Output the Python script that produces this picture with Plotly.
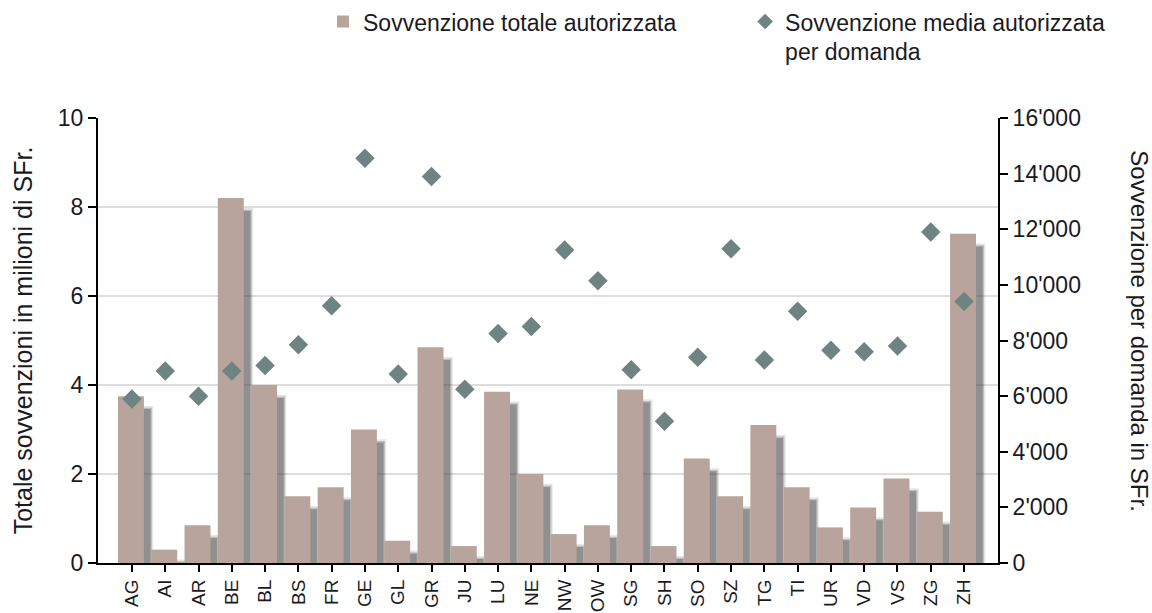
import plotly.graph_objects as go

cantons = ["AG", "AI", "AR", "BE", "BL", "BS", "FR", "GE", "GL", "GR", "JU", "LU", "NE",
           "NW", "OW", "SG", "SH", "SO", "SZ", "TG", "TI", "UR", "VD", "VS", "ZG", "ZH"]
totale_mio = [3.75, 0.3, 0.85, 8.2, 4.0, 1.5, 1.7, 3.0, 0.5, 4.85, 0.38, 3.85, 2.0,
              0.65, 0.85, 3.9, 0.38, 2.35, 1.5, 3.1, 1.7, 0.8, 1.25, 1.9, 1.15, 7.4]
media_sfr = [5900, 6900, 6000, 6900, 7100, 7850, 9250, 14550, 6800, 13900, 6250, 8250, 8500,
             11250, 10150, 6950, 5100, 7400, 11300, 7300, 9050, 7650, 7600, 7800, 11900, 9400]
left_ticks = [0, 2, 4, 6, 8, 10]
right_ticks = [0, 2000, 4000, 6000, 8000, 10000, 12000, 14000, 16000]
right_ticktext = ["0", "2'000", "4'000", "6'000", "8'000", "10'000", "12'000", "14'000", "16'000"]

FONT = "Liberation Sans, Arial, sans-serif"
TXT = "#1a1a22"
BAR = "#B8A49C"
DOT = "#6E8482"
FS = 23

idx = list(range(len(cantons)))
fig = go.Figure()

# soft drop shadow (several translucent layers)
for dx, dy, w, a in [(0.32, 0.22, 0.74, 0.12), (0.28, 0.26, 0.74, 0.24),
                     (0.24, 0.29, 0.74, 0.34)]:
    fig.add_trace(go.Bar(
        x=idx, y=totale_mio, base=[-dy] * len(idx),
        offset=-0.42 + dx, width=w,
        marker=dict(color=f"rgba(60,60,60,{a})", line=dict(width=0)),
        showlegend=False, hoverinfo="skip"))

fig.add_trace(go.Bar(
    x=idx, y=totale_mio, offset=-0.42, width=0.78,
    marker=dict(color=BAR, line=dict(width=0)),
    name="Sovvenzione totale autorizzata", legend="legend"))

fig.add_trace(go.Scatter(
    x=idx, y=media_sfr, yaxis="y2", mode="markers",
    marker=dict(symbol="diamond", size=15, color=DOT),
    name="Sovvenzione media autorizzata<br>per domanda", legend="legend2"))

axis_common = dict(showline=True, linecolor="black", linewidth=2, zeroline=False,
                   ticks="outside", tickcolor="black", tickwidth=2,
                   automargin=False)

fig.update_layout(
    width=1152, height=613,
    margin=dict(l=98, r=154, t=118, b=50, autoexpand=False),
    paper_bgcolor="white", plot_bgcolor="white",
    barmode="overlay",
    font=dict(family=FONT, size=FS, color=TXT),
    showlegend=True,
    legend=dict(x=0.25, xanchor="left", y=1.265, yanchor="top",
                font=dict(size=FS, color=TXT), bgcolor="rgba(0,0,0,0)"),
    legend2=dict(x=0.719, xanchor="left", y=1.265, yanchor="top", valign="top",
                 font=dict(size=FS, color=TXT), bgcolor="rgba(0,0,0,0)",
                 itemsizing="constant"),
    xaxis=dict(range=[-1.02, 26.02], tickvals=idx, ticktext=cantons, tickangle=-90,
               showgrid=False, ticklen=7, tickfont=dict(size=19, color=TXT), **axis_common),
    yaxis=dict(range=[0, 10], tickvals=left_ticks, showgrid=True, gridcolor="#DDDDDD",
               gridwidth=1.5, ticklen=8, tickfont=dict(size=FS, color=TXT), **axis_common,
               title=dict(text="Totale sovvenzioni in milioni di SFr.", standoff=18,
                          font=dict(size=25, color=TXT))),
    yaxis2=dict(range=[0, 16000], overlaying="y", side="right", tickvals=right_ticks,
                ticktext=right_ticktext, showgrid=False, ticklen=8,
                tickfont=dict(size=FS, color=TXT), **axis_common),
    annotations=[dict(text="Sovvenzione per domanda in SFr.", textangle=90,
                      xref="paper", yref="paper", x=1.157, y=0.52, xanchor="center",
                      yanchor="middle", showarrow=False, font=dict(size=24, color=TXT))],
)

fig.write_html("out.html", config={"displayModeBar": False},
               post_script="document.body.style.margin='0px';")
